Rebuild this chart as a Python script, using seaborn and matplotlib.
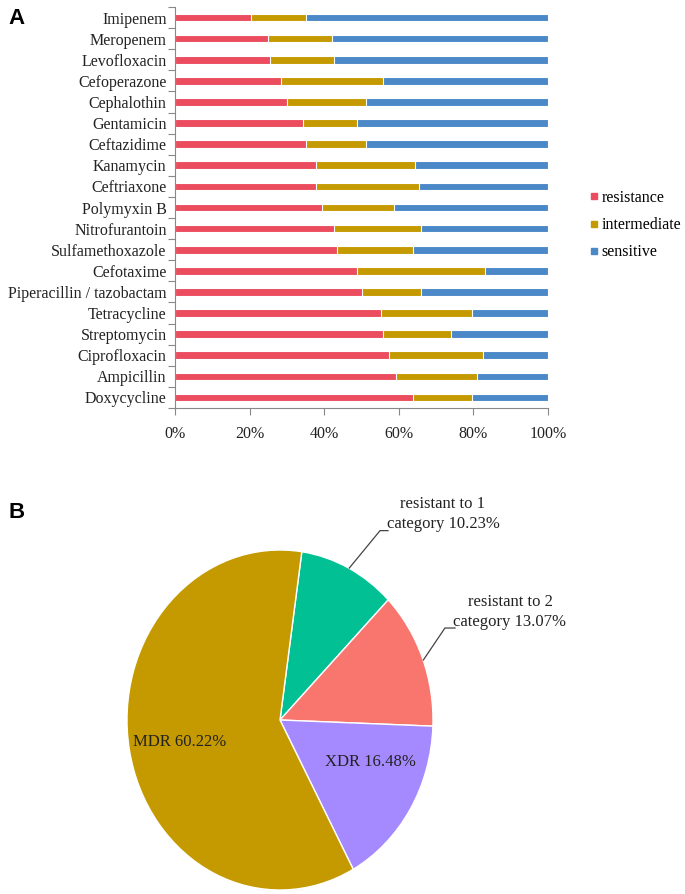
import seaborn as sns
import pandas as pd
import matplotlib.pyplot as plt
from matplotlib.lines import Line2D
from matplotlib.ticker import FixedLocator, PercentFormatter

# antibiotic resistance profile (percent of isolates), top to bottom
drugs = ['Imipenem', 'Meropenem', 'Levofloxacin', 'Cefoperazone', 'Cephalothin',
         'Gentamicin', 'Ceftazidime', 'Kanamycin', 'Ceftriaxone', 'Polymyxin B',
         'Nitrofurantoin', 'Sulfamethoxazole', 'Cefotaxime', 'Piperacillin / tazobactam',
         'Tetracycline', 'Streptomycin', 'Ciprofloxacin', 'Ampicillin', 'Doxycycline']
resistance = [20.4, 24.8, 25.5, 28.3, 30.0, 34.2, 35.1, 37.9, 37.9, 39.3,
              42.7, 43.5, 48.7, 50.1, 55.2, 55.7, 57.3, 59.3, 63.8]
intermediate = [14.7, 17.2, 17.2, 27.4, 21.3, 14.5, 16.2, 26.5, 27.5, 19.4,
                23.2, 20.3, 34.5, 15.8, 24.4, 18.3, 25.3, 21.6, 15.8]

# resistance categories of isolates
pie_labels = ['resistant to 1\ncategory 10.23%', 'resistant to 2\ncategory 13.07%',
              'XDR 16.48%', 'MDR 60.22%']
pie_values = [10.23, 13.07, 16.48, 60.22]

df = pd.DataFrame({'drug': drugs, 'resistance': resistance, 'intermediate': intermediate})
df['sensitive'] = 100 - df['resistance'] - df['intermediate']
df['cum_int'] = df['resistance'] + df['intermediate']
df['cum_all'] = df['cum_int'] + df['sensitive']

serif = 'Liberation Serif'
c_res, c_int, c_sen = '#EB4C5E', '#C49A00', '#4A88C8'

fig = plt.figure(figsize=(6.85, 8.94), dpi=100)

# ---- panel A ----
ax = fig.add_axes([175/685, 1-408/894, 373/685, 401/894])
for col, c in [('cum_all', c_sen), ('cum_int', c_int), ('resistance', c_res)]:
    sns.barplot(data=df, x=col, y='drug', order=drugs, orient='h', color=c,
                saturation=1, width=0.36, edgecolor='white', linewidth=0.8, ax=ax)
ax.set_xlim(0, 100)
ax.set_ylim(len(drugs) - 0.5, -0.5)
ax.set_xlabel('')
ax.set_ylabel('')
ax.xaxis.set_major_locator(FixedLocator([0, 20, 40, 60, 80, 100]))
ax.xaxis.set_major_formatter(PercentFormatter(decimals=0))
ax.yaxis.set_minor_locator(FixedLocator([i - 0.5 for i in range(len(drugs) + 1)]))
ax.tick_params(axis='y', which='major', length=0, pad=6)
ax.tick_params(axis='y', which='minor', length=5, color='#888888', width=0.8)
ax.tick_params(axis='x', length=5, color='#888888', width=0.8, pad=8)
for lab in ax.get_yticklabels() + ax.get_xticklabels():
    lab.set_fontfamily(serif)
    lab.set_fontsize(11.5)
    lab.set_color('#222222')
for s in ['top', 'right']:
    ax.spines[s].set_visible(False)
for s in ['left', 'bottom']:
    ax.spines[s].set_color('#888888')
    ax.spines[s].set_linewidth(0.8)

handles = [Line2D([], [], marker='s', ls='', color=c, markersize=5)
           for c in [c_res, c_int, c_sen]]
fig.legend(handles, ['resistance', 'intermediate', 'sensitive'],
           loc='upper left', bbox_to_anchor=(589/685, 1-190/894), frameon=False,
           borderpad=0, borderaxespad=0, handlelength=0.6, handletextpad=0.2,
           labelspacing=0.7, prop={'family': serif, 'size': 11.5})

fig.text(8/685, 1-18/894, 'A', family='Liberation Sans', weight='bold',
         fontsize=16, va='center', ha='left')
fig.text(8/685, 1-512/894, 'B', family='Liberation Sans', weight='bold',
         fontsize=16, va='center', ha='left')

# ---- panel B ----
rx, ry, cx, cy = 153, 170, 280, 720
lim = 1.02
pax = fig.add_axes([(cx - rx*lim)/685, 1-(cy + ry*lim)/894, 2*rx*lim/685, 2*ry*lim/894])
pax.pie(pie_values, colors=['#00C094', '#F8766D', '#A58AFF', '#C49A00'],
        startangle=81.8, counterclock=False,
        wedgeprops={'edgecolor': 'white', 'linewidth': 1.0})
pax.set_aspect('auto')
pax.set_xlim(-lim, lim)
pax.set_ylim(-lim, lim)
pax.axis('off')

tx = dict(family=serif, fontsize=12, color='#222222')
pax.text(1.065, 1.21, pie_labels[0], ha='center', va='center', linespacing=1.35, **tx)
pax.text(1.503, 0.637, pie_labels[1], ha='center', va='center', linespacing=1.35, **tx)
pax.text(0.59, -0.25, pie_labels[2], ha='center', va='center', **tx)
pax.text(-0.96, -0.13, pie_labels[3], ha='left', va='center', **tx)
pax.plot([0.453, 0.654, 0.706], [0.894, 1.114, 1.114], color='#444444', lw=0.9, clip_on=False)
pax.plot([0.937, 1.078, 1.144], [0.353, 0.541, 0.541], color='#444444', lw=0.9, clip_on=False)

fig.savefig('out.png', dpi=100)
